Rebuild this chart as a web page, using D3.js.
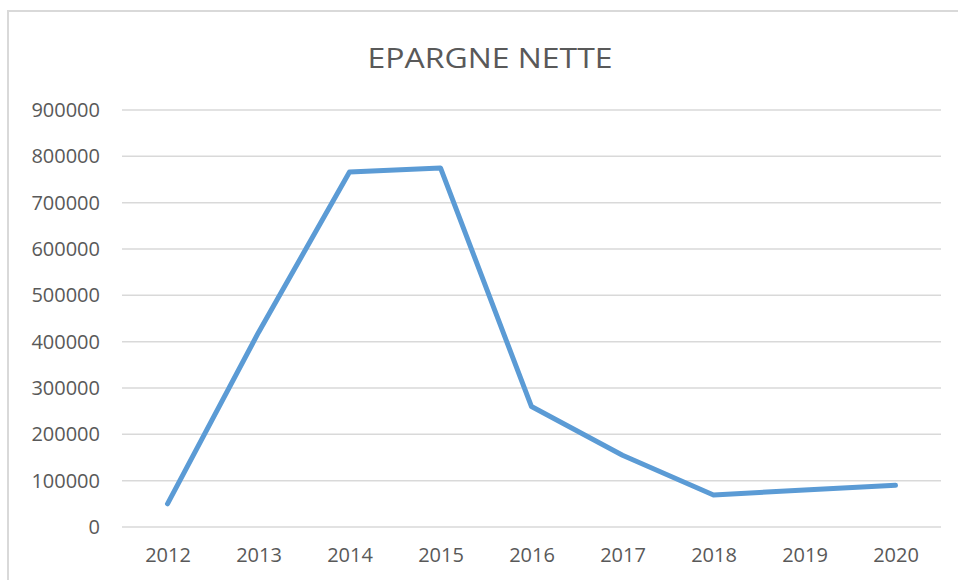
<!DOCTYPE html>
<html><head><meta charset="utf-8">
<script src="https://cdn.jsdelivr.net/npm/d3@7"></script>
<style>body{margin:0;background:#fff}svg{display:block}</style>
</head><body>
<svg id="c" width="958" height="580"></svg>
<script>
const title = "EPARGNE NETTE";
const years = ["2012","2013","2014","2015","2016","2017","2018","2019","2020"];
const values = [50000, 420000, 766000, 775000, 260000, 155000, 69000, 80000, 90000];
const yTicks = [0,100000,200000,300000,400000,500000,600000,700000,800000,900000];

const svg = d3.select("#c");
const W = 958, H = 580;
const m = {left:122, right:W-941, top:110, bottom:H-527};

// chart frame
svg.append("rect").attr("x",8).attr("y",11).attr("width",W+20).attr("height",H+20)
  .attr("fill","#fff").attr("stroke","#d9d9d9").attr("stroke-width",2);

const x = d3.scalePoint().domain(years).range([m.left, W-m.right]).padding(0.5);
const y = d3.scaleLinear().domain([0,900000]).range([H-m.bottom, m.top]);

// gridlines
svg.append("g").selectAll("line").data(yTicks).join("line")
  .attr("x1",m.left).attr("x2",W-m.right)
  .attr("y1",d=>y(d)).attr("y2",d=>y(d))
  .attr("stroke","#d9d9d9").attr("stroke-width",1.5);

const font = "'Open Sans', 'Liberation Sans', sans-serif";
// y axis labels
const ya = svg.append("g").attr("transform",`translate(${m.left},0)`)
  .call(d3.axisLeft(y).tickValues(yTicks).tickFormat(d=>String(d)).tickSize(0).tickPadding(22));
ya.select(".domain").remove();
ya.selectAll("text").attr("fill","#595959").style("font-family",font).style("font-size","20px");

// x axis labels
const xa = svg.append("g").attr("transform",`translate(0,${H-m.bottom})`)
  .call(d3.axisBottom(x).tickSize(0).tickPadding(21));
xa.select(".domain").remove();
xa.selectAll("text").attr("fill","#595959").style("font-family",font).style("font-size","20px");

// line
svg.append("path").datum(values)
  .attr("fill","none").attr("stroke","#5b9bd5").attr("stroke-width",5)
  .attr("stroke-linecap","round").attr("stroke-linejoin","round")
  .attr("d", d3.line().x((d,i)=>x(years[i])).y(d=>y(d)));

// title
svg.append("text").attr("x",490).attr("y",68).attr("text-anchor","middle")
  .attr("fill","#595959").style("font-family",font).style("font-size","28px")
  .attr("textLength",245).attr("lengthAdjust","spacingAndGlyphs")
  .text(title);
</script>
</body></html>
